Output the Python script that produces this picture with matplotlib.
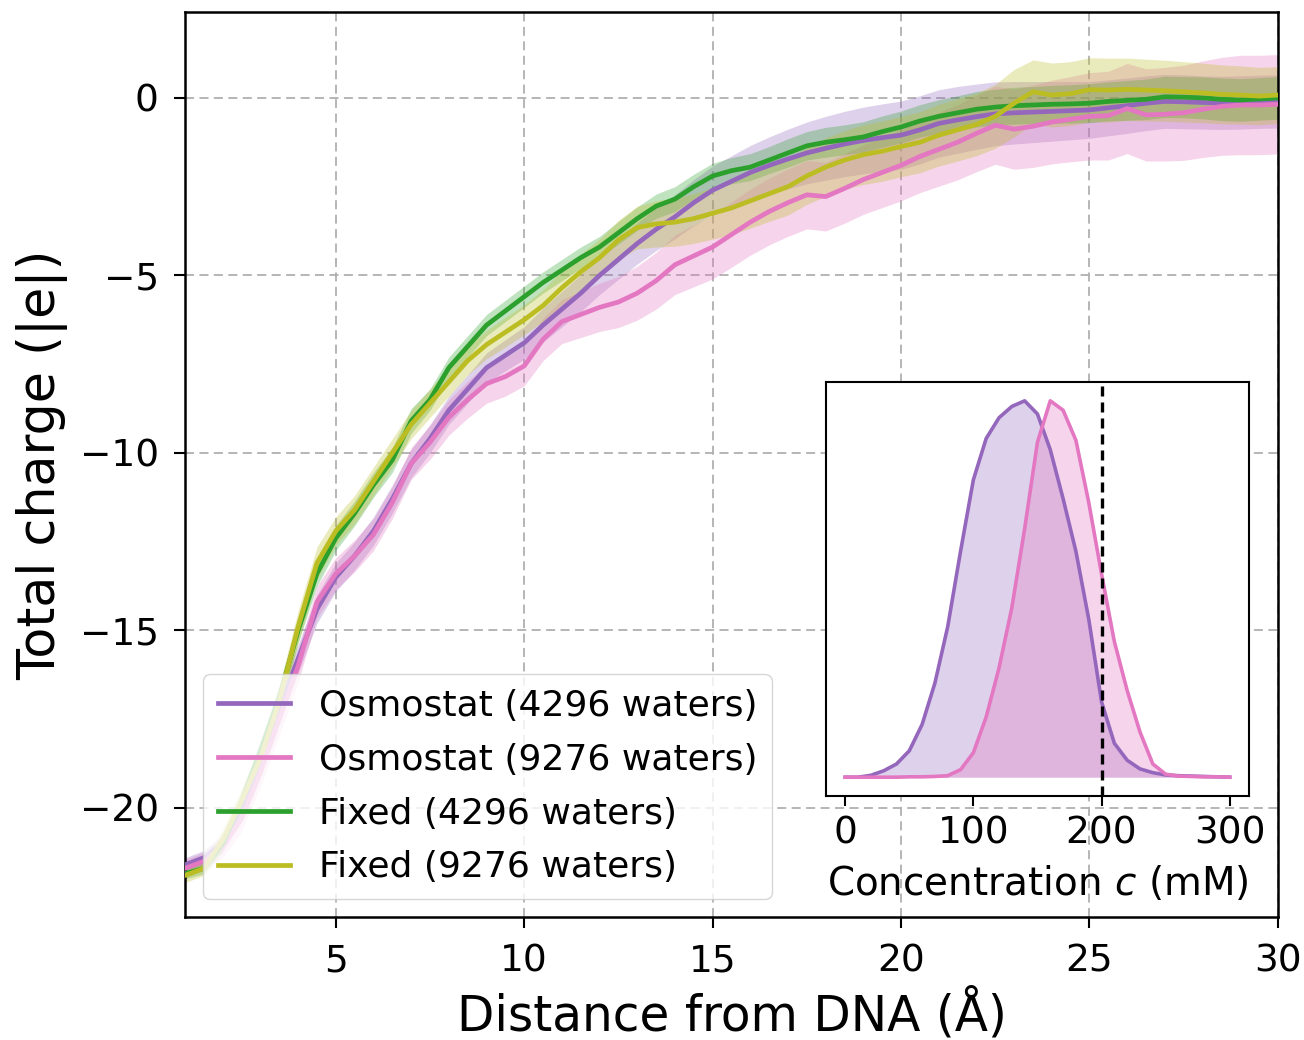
import numpy as np
import matplotlib
matplotlib.use("Agg")
import matplotlib.pyplot as plt

# ---------------- data ----------------
dist = np.arange(1.0, 30.5, 0.5)  # sampling grid (Å)

osmo_4296 = [-21.6, -21.4, -21.0, -20.0, -18.7, -17.2, -15.8, -14.4, -13.5, -12.9,
             -12.2, -11.3, -10.3, -9.6, -8.8, -8.2, -7.6, -7.25, -6.9, -6.4,
             -5.95, -5.5, -5.0, -4.55, -4.1, -3.7, -3.35, -2.95, -2.6, -2.35,
             -2.1, -1.9, -1.72, -1.55, -1.42, -1.3, -1.2, -1.12, -1.05, -0.9,
             -0.72, -0.62, -0.53, -0.45, -0.42, -0.4, -0.38, -0.36, -0.34, -0.28,
             -0.22, -0.15, -0.1, -0.11, -0.13, -0.14, -0.13, -0.11, -0.1]
osmo_9276 = [-21.7, -21.5, -21.1, -20.3, -19.0, -17.5, -16.0, -14.2, -13.4, -12.9,
             -12.3, -11.4, -10.3, -9.7, -9.0, -8.5, -8.05, -7.85, -7.55, -6.8,
             -6.3, -6.1, -5.9, -5.75, -5.5, -5.15, -4.7, -4.45, -4.2, -3.85,
             -3.5, -3.2, -2.95, -2.73, -2.78, -2.55, -2.3, -2.1, -1.9, -1.65,
             -1.45, -1.25, -1.0, -0.77, -0.88, -0.8, -0.68, -0.6, -0.52, -0.5,
             -0.3, -0.48, -0.46, -0.42, -0.32, -0.24, -0.2, -0.2, -0.18]
fixed_4296 = [-21.85, -21.7, -21.0, -19.8, -18.4, -16.9, -15.0, -13.4, -12.4, -11.7,
              -10.9, -10.2, -9.1, -8.5, -7.6, -7.0, -6.4, -6.0, -5.6, -5.2,
              -4.85, -4.5, -4.2, -3.8, -3.4, -3.05, -2.85, -2.5, -2.2, -2.05,
              -1.95, -1.75, -1.55, -1.35, -1.25, -1.18, -1.1, -0.95, -0.82, -0.65,
              -0.52, -0.42, -0.32, -0.26, -0.22, -0.2, -0.18, -0.17, -0.15, -0.1,
              -0.07, -0.04, 0.03, 0.02, 0.0, -0.04, -0.06, -0.03, 0.0]
fixed_9276 = [-21.9, -21.7, -20.9, -19.8, -18.6, -17.0, -14.9, -13.1, -12.2, -11.6,
              -10.8, -10.0, -9.2, -8.6, -8.0, -7.4, -6.95, -6.6, -6.25, -5.85,
              -5.35, -4.9, -4.5, -4.0, -3.65, -3.55, -3.5, -3.4, -3.25, -3.1,
              -2.9, -2.7, -2.5, -2.2, -1.95, -1.75, -1.6, -1.5, -1.37, -1.25,
              -1.05, -0.9, -0.75, -0.52, -0.15, 0.17, 0.08, 0.12, 0.23, 0.22,
              0.24, 0.22, 0.2, 0.17, 0.14, 0.1, 0.08, 0.05, 0.08]

osmo_4296_sd = [0.2, 0.2, 0.25, 0.3, 0.35, 0.4, 0.4, 0.4, 0.4, 0.4,
                0.4, 0.4, 0.4, 0.4, 0.4, 0.4, 0.42, 0.44, 0.46, 0.48,
                0.5, 0.52, 0.54, 0.56, 0.58, 0.6, 0.62, 0.65, 0.68, 0.72,
                0.76, 0.8, 0.84, 0.87, 0.9, 0.92, 0.94, 0.95, 0.96, 0.96,
                0.95, 0.94, 0.92, 0.9, 0.88, 0.86, 0.84, 0.82, 0.8, 0.79,
                0.78, 0.77, 0.76, 0.76, 0.75, 0.75, 0.75, 0.75, 0.75]
osmo_9276_sd = [0.25, 0.25, 0.3, 0.35, 0.4, 0.45, 0.45, 0.45, 0.45, 0.45,
                0.45, 0.45, 0.45, 0.48, 0.5, 0.52, 0.55, 0.55, 0.56, 0.6,
                0.62, 0.65, 0.68, 0.72, 0.76, 0.8, 0.84, 0.87, 0.9, 0.92,
                0.93, 0.94, 0.95, 0.96, 0.97, 0.98, 0.98, 0.99, 1.0, 1.02,
                1.04, 1.06, 1.08, 1.1, 1.13, 1.16, 1.18, 1.2, 1.23, 1.25,
                1.27, 1.3, 1.32, 1.34, 1.36, 1.38, 1.4, 1.4, 1.4]
fixed_4296_sd = [0.15, 0.15, 0.2, 0.25, 0.3, 0.35, 0.35, 0.35, 0.35, 0.35,
                 0.35, 0.35, 0.35, 0.3, 0.3, 0.3, 0.3, 0.3, 0.3, 0.3,
                 0.3, 0.3, 0.3, 0.32, 0.33, 0.34, 0.35, 0.35, 0.36, 0.37,
                 0.38, 0.38, 0.4, 0.4, 0.42, 0.42, 0.43, 0.44, 0.45, 0.46,
                 0.47, 0.48, 0.5, 0.5, 0.52, 0.52, 0.53, 0.54, 0.55, 0.55,
                 0.56, 0.57, 0.58, 0.58, 0.59, 0.6, 0.6, 0.6, 0.6]
fixed_9276_sd = [0.2, 0.2, 0.3, 0.35, 0.4, 0.45, 0.45, 0.45, 0.4, 0.4,
                 0.4, 0.4, 0.4, 0.4, 0.4, 0.4, 0.4, 0.42, 0.42, 0.45,
                 0.48, 0.5, 0.52, 0.55, 0.6, 0.65, 0.68, 0.7, 0.73, 0.75,
                 0.77, 0.78, 0.8, 0.8, 0.82, 0.83, 0.84, 0.85, 0.85, 0.86,
                 0.87, 0.88, 0.88, 0.9, 0.95, 0.9, 0.9, 0.9, 0.9, 0.9,
                 0.88, 0.87, 0.86, 0.85, 0.84, 0.83, 0.82, 0.81, 0.8]

labels = ["Osmostat (4296 waters)", "Osmostat (9276 waters)",
          "Fixed (4296 waters)", "Fixed (9276 waters)"]
colors = ["#9467bd", "#e377c2", "#2ca02c", "#bcbd22"]

# inset: concentration distributions (normalised)
conc = [0, 10, 20, 30, 40, 50, 60, 70, 80, 90, 100, 110, 120, 130, 140, 150,
        160, 170, 180, 190, 200, 210, 220, 230, 240, 250, 260, 270, 280, 290, 300]
dens_4296 = [0.0, 0.0, 0.005, 0.017, 0.035, 0.07, 0.14, 0.25, 0.4, 0.6, 0.79,
             0.9, 0.955, 0.985, 1.0, 0.965, 0.87, 0.74, 0.6, 0.42, 0.2, 0.09,
             0.045, 0.022, 0.012, 0.006, 0.004, 0.003, 0.002, 0.001, 0.0]
dens_9276 = [0.0, 0.0, 0.0, 0.0, 0.0, 0.001, 0.001, 0.002, 0.004, 0.02, 0.065,
             0.16, 0.29, 0.45, 0.66, 0.89, 1.0, 0.975, 0.895, 0.73, 0.54, 0.36,
             0.23, 0.12, 0.035, 0.008, 0.003, 0.002, 0.001, 0.001, 0.0]
target_conc = 200

# ---------------- figure ----------------
fig = plt.figure(figsize=(13.04, 10.40), dpi=100)
ax = fig.add_axes([0.1419, 0.1183, 0.8381, 0.8702])

means = [osmo_4296, osmo_9276, fixed_4296, fixed_9276]
sds = [osmo_4296_sd, osmo_9276_sd, fixed_4296_sd, fixed_9276_sd]
for m, s, c in zip(means, sds, colors):
    m = np.array(m); s = np.array(s)
    ax.fill_between(dist, m - s, m + s, color=c, alpha=0.3, lw=0, zorder=2)
for m, c, lab in zip(means, colors, labels):
    ax.plot(dist, m, color=c, lw=3.4, label=lab, zorder=3)

ax.set_xlim(1, 30)
ax.set_ylim(-23.07, 2.42)
ax.set_xticks([5, 10, 15, 20, 25, 30])
ax.set_yticks([0, -5, -10, -15, -20])
ax.grid(True, color="#b0b0b0", ls=(0, (5, 3)), lw=1.3, zorder=0)
ax.set_axisbelow(True)
ax.tick_params(labelsize=27, length=8, width=1.5)
ax.tick_params(axis="x", pad=11)
ax.tick_params(axis="y", pad=11)
for sp in ax.spines.values():
    sp.set_linewidth(1.8)
ax.set_xlabel("Distance from DNA (Å)", fontsize=35, labelpad=6)
ax.set_ylabel("Total charge (|e|)", fontsize=36.5, labelpad=8)
ax.legend(loc="lower left", fontsize=26, labelspacing=0.55, handlelength=2.0)

# inset
axin = fig.add_axes([0.6334, 0.2346, 0.3244, 0.3981])
axin.set_facecolor("white")
axin.fill_between(conc, 0, dens_4296, color=colors[0], alpha=0.3, lw=0)
axin.fill_between(conc, 0, dens_9276, color=colors[1], alpha=0.3, lw=0)
axin.plot(conc, dens_4296, color=colors[0], lw=2.6)
axin.plot(conc, dens_9276, color=colors[1], lw=2.6)
axin.axvline(target_conc, color="k", ls=(0, (3, 1.8)), lw=2.4)
axin.set_yticks([])
axin.set_xticks([0, 100, 200, 300])
axin.tick_params(labelsize=27, length=7, width=1.5, pad=7)
for sp in axin.spines.values():
    sp.set_linewidth(1.5)
axin.set_xlabel("Concentration $c$ (mM)", fontsize=28, labelpad=9)

fig.savefig("out.png", dpi=100)
